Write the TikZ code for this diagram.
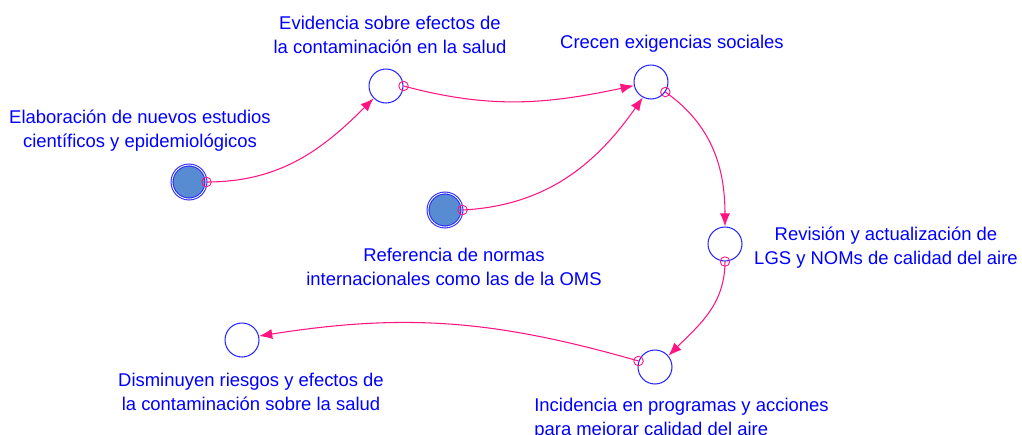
\documentclass[tikz,border=0pt]{standalone}
\usepackage{fontspec}
\setmainfont{Liberation Sans}
\usetikzlibrary{arrows.meta}
\definecolor{linkpink}{RGB}{255,20,130}
\definecolor{varblue}{RGB}{40,40,255}
\definecolor{extfill}{RGB}{88,140,210}

\begin{document}
\begin{tikzpicture}[x=0.02cm, y=0.02cm,
  var/.style={circle, draw=varblue, line width=0.6pt, minimum size=0.68cm, inner sep=0pt},
  ext/.style={var, fill=extfill, double=white, double distance=0.5pt},
  lbl/.style={text=blue, font=\fontsize{10.5}{13.6}\selectfont, align=center, inner sep=0pt},
  tail/.style={circle, draw=linkpink, line width=0.5pt, minimum size=5.4pt, inner sep=0pt, fill=none},
  link/.style={draw=linkpink, line width=0.6pt, -{Latex[length=7.5pt,width=5.8pt]}}]
\useasboundingbox (0,0) rectangle (1022,434);
% variables
\node (e1) at (189,252) [ext] {};
\node (ev) at (386,348) [var] {};
\node (cr) at (651,352) [var] {};
\node (rf) at (445,224) [ext] {};
\node (rv) at (725,190) [var] {};
\node (ic) at (655,67) [var] {};
\node (ds) at (242,94) [var] {};
% labels
\node (e1l) at (140,303) [lbl] {Elaboración de nuevos estudios\\científicos y epidemiológicos};
\node (evl) at (390,399) [lbl] {Evidencia sobre efectos de\\la contaminación en la salud};
\node (crl) at (672,390) [lbl] {Crecen exigencias sociales};
\node (rfl) at (454,167) [lbl] {Referencia de normas\\internacionales como las de la OMS};
\node (rvl) at (886,186) [lbl] {Revisión y actualización de\\LGS y NOMs de calidad del aire};
\node (dsl) at (251,42) [lbl] {Disminuyen riesgos y efectos de\\la contaminación sobre la salud};
\node (icl) at (534,15) [lbl, anchor=west, align=left] {Incidencia en programas y acciones\\para mejorar calidad del aire};
% links
\draw[link] (e1.east) to[out=0, in=225] node[tail, pos=0] {} (ev.225);
\draw[link] (ev.east) to[out=-15, in=192] node[tail, pos=0] {} (cr.192);
\draw[link] (rf.east) to[out=3, in=235] node[tail, pos=0] {} (cr.242);
\draw[link] (cr.-35) to[out=-35, in=90] node[tail, pos=0] {} (rv.north);
\draw[link] (rv.south) to[out=-90, in=45] node[tail, pos=0] {} (ic.40);
\draw[link] (ic.160) to[out=164, in=9] node[tail, pos=0] {} (ds.13);
\end{tikzpicture}
\end{document}
